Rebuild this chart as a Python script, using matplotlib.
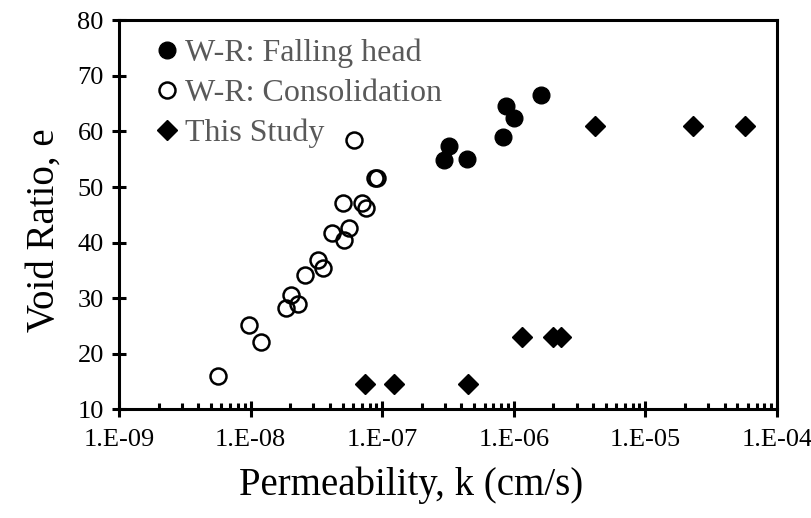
#!/usr/bin/env python3
"""Void ratio vs permeability: W-R data and this study."""
import matplotlib
matplotlib.use("Agg")
import matplotlib.pyplot as plt
from matplotlib.ticker import LogLocator, NullFormatter, FixedLocator

plt.rcParams["font.family"] = ["Liberation Serif", "DejaVu Serif"]

# W-R: falling head (filled circles)
fh_k = [2.95e-7, 3.22e-7, 4.44e-7, 8.3e-7, 8.71e-7, 1.0e-6, 1.61e-6]
fh_e = [54.8, 57.3, 55.0, 59.0, 64.6, 62.5, 66.5]

# W-R: consolidation (open circles)
co_k = [5.61e-9, 9.67e-9, 1.20e-8, 1.84e-8, 2.01e-8, 2.29e-8, 2.58e-8,
        3.25e-8, 3.54e-8, 4.13e-8, 5.10e-8, 5.56e-8, 5.07e-8, 7.0e-8,
        7.46e-8, 8.79e-8, 9.2e-8, 6.15e-8]
co_e = [16.0, 25.2, 22.2, 28.3, 30.6, 28.9, 34.2,
        36.9, 35.5, 41.7, 40.4, 42.7, 47.2, 47.2,
        46.3, 51.6, 51.6, 58.4]

# This study (diamonds)
ts_k = [7.33e-8, 1.23e-7, 4.52e-7, 1.15e-6, 1.97e-6, 2.29e-6, 4.17e-6, 2.28e-5, 5.73e-5]
ts_e = [14.6, 14.6, 14.6, 23.1, 23.1, 23.1, 61.0, 61.0, 61.0]

x_ticks = [1e-9, 1e-8, 1e-7, 1e-6, 1e-5, 1e-4]
x_labels = ["1.E-09", "1.E-08", "1.E-07", "1.E-06", "1.E-05", "1.E-04"]
y_ticks = [10, 20, 30, 40, 50, 60, 70, 80]

fig = plt.figure(figsize=(8.12, 5.18), dpi=100)
ax = fig.add_axes([0.1466, 0.2095, 0.8104, 0.7515])

ax.plot(fh_k, fh_e, "o", color="black", ms=12, label="W-R: Falling head", zorder=3)
ax.plot(co_k, co_e, "o", mfc="none", mec="black", mew=1.8, ms=11.5,
        label="W-R: Consolidation", zorder=3)
ax.plot(ts_k, ts_e, "D", color="black", ms=10, label="This Study", zorder=3)

ax.set_xscale("log")
ax.set_xlim(1e-9, 1e-4)
ax.set_ylim(10, 80)
ax.xaxis.set_major_locator(FixedLocator(x_ticks))
ax.set_xticklabels(x_labels)
ax.xaxis.set_minor_locator(LogLocator(base=10, subs=range(2, 10), numticks=20))
ax.xaxis.set_minor_formatter(NullFormatter())
ax.set_yticks(y_ticks)

for s in ax.spines.values():
    s.set_linewidth(2.2)

ax.tick_params(axis="x", which="major", direction="inout", length=12, width=2.2,
               labelsize=19, pad=8)
ax.tick_params(axis="x", which="minor", direction="in", length=4.5, width=2.2)
ax.tick_params(axis="y", which="major", direction="inout", length=10, width=2.2,
               labelsize=19, pad=6)

ax.set_xlabel("Permeability, k (cm/s)", fontsize=28)
ax.xaxis.set_label_coords(0.444, -0.147)
ax.set_ylabel("Void Ratio, e", fontsize=28)
ax.yaxis.set_label_coords(-0.085, 0.46)

leg = ax.legend(loc="upper left", bbox_to_anchor=(0.039, 0.985), frameon=False,
                fontsize=23, handlelength=0.6, handletextpad=0.25,
                labelspacing=0.33, borderaxespad=0)
for t in leg.get_texts():
    t.set_color("#595959")

fig.savefig("out.png", dpi=100)
